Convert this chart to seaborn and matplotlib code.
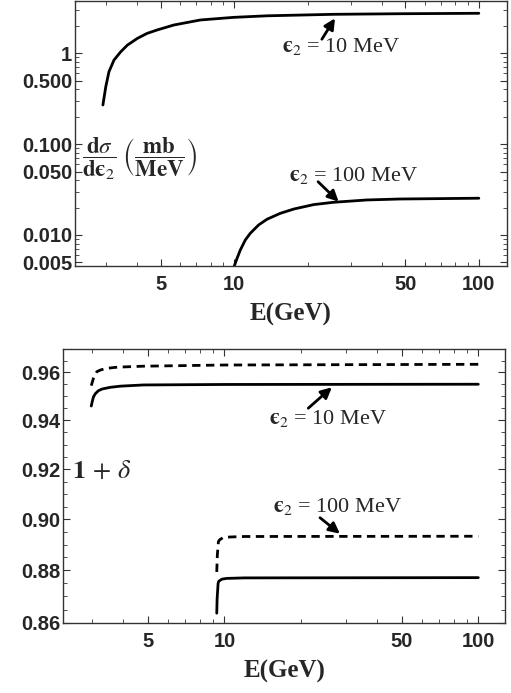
import numpy as np
import matplotlib
matplotlib.use("Agg")
import matplotlib.pyplot as plt
import seaborn as sns
from matplotlib.ticker import FixedLocator, FixedFormatter, NullFormatter

# --- top panel: d sigma / d eps2 (mb/MeV) vs E (GeV), log-log ---
e_top_10 = [2.90, 2.98, 3.07, 3.22, 3.43, 3.65, 4.01, 4.40, 4.84, 5.65, 7.26, 9.93, 13.6, 25.4, 47.6, 100]
xs_top_10 = [0.270, 0.429, 0.627, 0.844, 1.04, 1.23, 1.46, 1.66, 1.81, 2.05, 2.33, 2.49, 2.59, 2.69, 2.73, 2.76]
e_top_100 = [9.98, 10.26, 10.58, 11.09, 11.62, 12.57, 13.6, 15.4, 17.5, 21.1, 25.4, 34.8, 47.6, 65.1, 100]
xs_top_100 = [0.0045, 0.00554, 0.00684, 0.00881, 0.01044, 0.0129, 0.0149, 0.0173, 0.0193, 0.0216, 0.0229, 0.0243, 0.0249, 0.0251, 0.0254]

# --- bottom panel: 1 + delta vs E (GeV) ---
e_bot_10 = [2.99, 3.02, 3.05, 3.10, 3.19, 3.30, 3.55, 3.90, 4.80, 10, 100]
solid_10 = [0.9459, 0.9480, 0.9497, 0.9510, 0.9523, 0.9530, 0.9537, 0.9542, 0.9547, 0.9549, 0.9550]
e_bot_10d = [2.99, 3.02, 3.05, 3.10, 3.146, 3.25, 3.44, 3.80, 4.80, 10, 100]
dashed_10 = [0.9544, 0.9560, 0.9575, 0.9592, 0.9603, 0.9610, 0.9617, 0.9622, 0.9626, 0.9631, 0.9634]
e_bot_100 = [9.33, 9.36, 9.445, 9.5, 9.77, 10.2, 12, 100]
solid_100 = [0.8636, 0.8690, 0.8750, 0.8758, 0.8766, 0.8769, 0.8771, 0.8772]
e_bot_100d = [9.33, 9.38, 9.47, 9.6, 9.91, 10.5, 12, 100]
dashed_100 = [0.8794, 0.8860, 0.8912, 0.8920, 0.8928, 0.8930, 0.8932, 0.8933]

x_major = [5, 10, 50, 100]
x_minor = [3, 4, 6, 7, 8, 9, 20, 30, 40, 60, 70, 80, 90]
y_top_major = [0.005, 0.01, 0.05, 0.1, 0.5, 1]
y_top_labels = ["0.005", "0.010", "0.050", "0.100", "0.500", "1"]
y_top_minor = [0.006, 0.007, 0.008, 0.009, 0.02, 0.03, 0.04, 0.06, 0.07, 0.08, 0.09,
               0.2, 0.3, 0.4, 0.6, 0.7, 0.8, 0.9, 2, 3]
y_bot_major = [0.86, 0.88, 0.90, 0.92, 0.94, 0.96]
y_bot_minor = [0.865, 0.87, 0.875, 0.885, 0.89, 0.895, 0.905, 0.91, 0.915,
               0.925, 0.93, 0.935, 0.945, 0.95, 0.955, 0.965]

sns.set_style("ticks")
plt.rcParams["mathtext.fontset"] = "stix"
plt.rcParams["font.family"] = ["Liberation Serif", "DejaVu Serif"]

fig = plt.figure(figsize=(5.11, 6.93), dpi=100)
ax1 = fig.add_axes([75 / 511, 1 - 265.7 / 693, 431.7 / 511, 264.7 / 693])
ax2 = fig.add_axes([63.3 / 511, 1 - 622.7 / 693, 441.7 / 511, 273.7 / 693])

tick_font = dict(family="Liberation Sans", weight="bold", size=14.5)
line_kw = dict(color="black", lw=2.0)
arrow_kw = dict(arrowstyle="-|>", color="black", lw=2.0, mutation_scale=16, shrinkA=0, shrinkB=0)
eps = "\u03f5"


def style_axis(ax, xlim, ylim, ymaj, ylabels, ymin):
    ax.set_xscale("log")
    ax.set_yscale("log")
    ax.set_xlim(*xlim)
    ax.set_ylim(*ylim)
    ax.xaxis.set_major_locator(FixedLocator(x_major))
    ax.xaxis.set_major_formatter(FixedFormatter([str(v) for v in x_major]))
    ax.xaxis.set_minor_locator(FixedLocator(x_minor))
    ax.xaxis.set_minor_formatter(NullFormatter())
    ax.yaxis.set_major_locator(FixedLocator(ymaj))
    ax.yaxis.set_major_formatter(FixedFormatter(ylabels))
    ax.yaxis.set_minor_locator(FixedLocator(ymin))
    ax.yaxis.set_minor_formatter(NullFormatter())
    ax.tick_params(which="both", direction="in", top=True, right=True, color="#333333")
    ax.tick_params(which="major", length=5, width=0.8)
    ax.tick_params(which="minor", length=3, width=0.6)
    ax.tick_params(axis="x", pad=7)
    ax.tick_params(axis="y", pad=2)
    for sp in ax.spines.values():
        sp.set_color("#333333")
        sp.set_linewidth(1.0)
    ax.set_xlabel("E(GeV)", fontsize=18, fontweight="bold", family="Liberation Serif", labelpad=6)
    ax.set_ylabel("")


# top panel
sns.lineplot(x=e_top_10, y=xs_top_10, ax=ax1, **line_kw)
sns.lineplot(x=e_top_100, y=xs_top_100, ax=ax1, **line_kw)
style_axis(ax1, (2.23, 130), (0.00459, 3.77), y_top_major, y_top_labels, y_top_minor)

ax1.text(0.15, 0.405, r"$\dfrac{\mathbf{d}\sigma}{\mathbf{d}\mathbf{" + eps + r"}_2}\ \left(\dfrac{\mathbf{mb}}{\mathbf{MeV}}\right)$",
         transform=ax1.transAxes, ha="center", va="center", fontsize=16.5)

ax1.annotate("", xy=(25.8, 2.43), xytext=(22.8, 1.43), arrowprops=arrow_kw)
ax1.text(27.2, 1.18, r"$\mathbf{" + eps + r"}_2$ = 10 MeV", ha="center", va="center", fontsize=16)
ax1.annotate("", xy=(26.7, 0.0233), xytext=(22.0, 0.0386), arrowprops=arrow_kw)
ax1.text(30.8, 0.0457, r"$\mathbf{" + eps + r"}_2$ = 100 MeV", ha="center", va="center", fontsize=16)

# bottom panel
sns.lineplot(x=e_bot_10, y=solid_10, ax=ax2, **line_kw)
sns.lineplot(x=e_bot_10d, y=dashed_10, ax=ax2, linestyle=(0, (3, 2)), **line_kw)
sns.lineplot(x=e_bot_100, y=solid_100, ax=ax2, **line_kw)
sns.lineplot(x=e_bot_100d, y=dashed_100, ax=ax2, linestyle=(0, (3, 2)), **line_kw)
style_axis(ax2, (2.32, 127.4), (0.86, 0.9699), y_bot_major,
           [f"{v:.2f}" for v in y_bot_major], y_bot_minor)

ax2.text(0.0865, 0.554, r"$\mathbf{1}\/+\/\delta$", transform=ax2.transAxes,
         ha="center", va="center", fontsize=19)
ax2.annotate("", xy=(26.5, 0.9537), xytext=(21.4, 0.9450), arrowprops=arrow_kw)
ax2.text(25.5, 0.9408, r"$\mathbf{" + eps + r"}_2$ = 10 MeV", ha="center", va="center", fontsize=16)
ax2.annotate("", xy=(28.5, 0.8943), xytext=(23.8, 0.9006), arrowprops=arrow_kw)
ax2.text(27.8, 0.9050, r"$\mathbf{" + eps + r"}_2$ = 100 MeV", ha="center", va="center", fontsize=16)

for ax in (ax1, ax2):
    for lab in ax.get_xticklabels() + ax.get_yticklabels():
        lab.set_fontproperties(tick_font)

fig.savefig("out.png", dpi=100)
